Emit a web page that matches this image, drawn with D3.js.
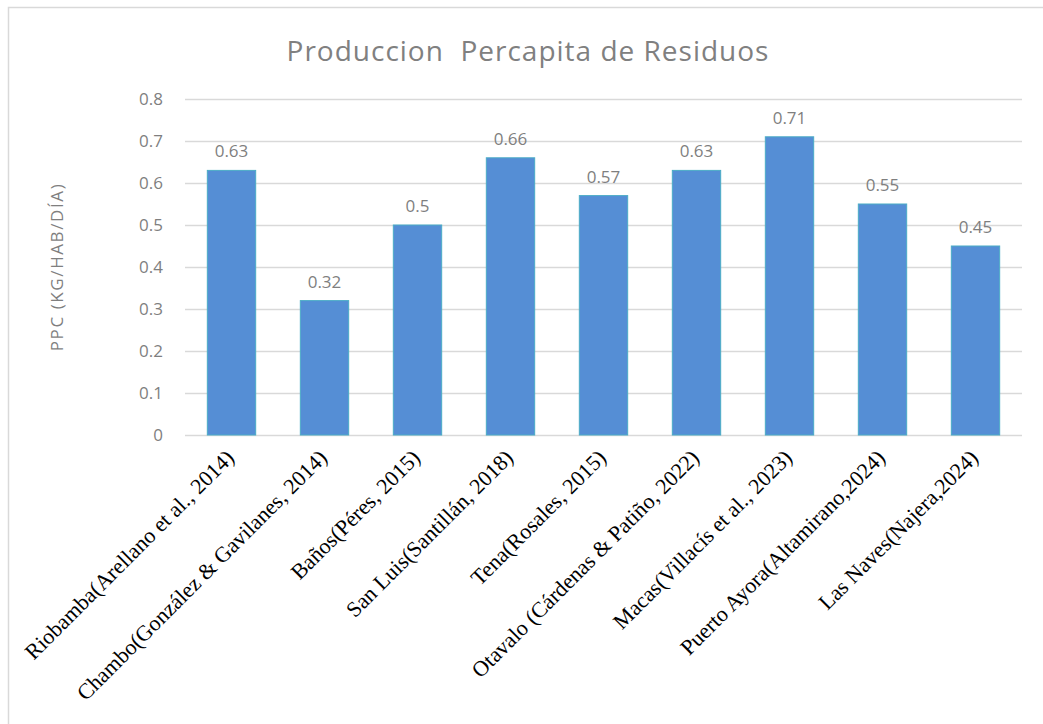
<!DOCTYPE html>
<html>
<head>
<meta charset="utf-8">
<script src="https://cdn.jsdelivr.net/npm/d3@7"></script>
<style>
  body { margin: 0; background: #fff; }
  svg { display: block; }
</style>
</head>
<body>
<svg id="chart"></svg>
<script>
// categories and per-capita waste values (kg/hab/día)
const categories = [
    'Riobamba(Arellano et al., 2014)',
    'Chambo(González & Gavilanes, 2014)',
    'Baños(Péres, 2015)',
    'San Luis(Santillán, 2018)',
    'Tena(Rosales, 2015)',
    'Otavalo (Cárdenas & Patiño, 2022)',
    'Macas(Villacís et al., 2023)',
    'Puerto Ayora(Altamirano,2024)',
    'Las Naves(Najera,2024)'
];
const values = [0.63, 0.32, 0.5, 0.66, 0.57, 0.63, 0.71, 0.55, 0.45];
const yTicks = [0, 0.1, 0.2, 0.3, 0.4, 0.5, 0.6, 0.7, 0.8];

const width = 1043;
const height = 724;
const margin = { top: 99, right: 21, bottom: 289, left: 185 };

const svg = d3.select('#chart')
    .attr('width', width)
    .attr('height', height);

// chart area frame
svg.append('rect')
    .attr('x', 8.5)
    .attr('y', 7.5)
    .attr('width', 1100)
    .attr('height', 800)
    .attr('fill', '#fff')
    .attr('stroke', '#d9d9d9')
    .attr('stroke-width', 1.5);

svg.append('text')
    .attr('x', 528)
    .attr('y', 61)
    .attr('text-anchor', 'middle')
    .attr('font-family', 'Open Sans, sans-serif')
    .attr('font-size', 28)
    .attr('letter-spacing', 1)
    .attr('fill', '#808080')
    .attr('xml:space', 'preserve')
    .text('Produccion  Percapita de Residuos');

const x = d3.scaleBand()
    .domain(categories)
    .range([margin.left, width - margin.right])
    .paddingInner(0.48)
    .paddingOuter(0.24);

const y = d3.scaleLinear()
    .domain([0, 0.8])
    .range([height - margin.bottom, margin.top]);

// gridlines + y tick labels
const yAxis = d3.axisLeft(y)
    .tickValues(yTicks)
    .tickFormat(d => d === 0 ? '0' : d3.format('.1f')(d))
    .tickSize(-(width - margin.right - margin.left))
    .tickPadding(22);

const gy = svg.append('g')
    .attr('transform', `translate(${margin.left},0)`)
    .call(yAxis);
gy.select('.domain').remove();
gy.selectAll('.tick line')
    .attr('stroke', '#d9d9d9')
    .attr('stroke-width', 1.5);
gy.selectAll('.tick text')
    .attr('font-family', 'Open Sans, sans-serif')
    .attr('font-size', 17)
    .attr('fill', '#7f7f7f');

// bars
svg.append('g')
    .selectAll('rect')
    .data(values)
    .join('rect')
    .attr('x', (d, i) => x(categories[i]))
    .attr('y', d => y(d))
    .attr('width', x.bandwidth())
    .attr('height', d => y(0) - y(d))
    .attr('fill', '#558ed5')
    .attr('stroke', '#4bacc6')
    .attr('stroke-width', 1);

// value labels
svg.append('g')
    .selectAll('text')
    .data(values)
    .join('text')
    .attr('x', (d, i) => x(categories[i]) + x.bandwidth() / 2)
    .attr('y', d => y(d) - 13)
    .attr('text-anchor', 'middle')
    .attr('font-family', 'Open Sans, sans-serif')
    .attr('font-size', 17)
    .attr('fill', '#7f7f7f')
    .text(d => d);

// rotated category labels
const xAxis = d3.axisBottom(x).tickSize(0).tickPadding(0);
const gx = svg.append('g')
    .attr('transform', `translate(0,${height - margin.bottom})`)
    .call(xAxis);
gx.select('.domain').remove();
gx.selectAll('.tick text')
    .attr('font-family', 'Liberation Serif, Times New Roman, serif')
    .attr('font-size', 22)
    .attr('fill', '#000')
    .attr('text-anchor', 'end')
    .attr('dy', 0)
    .attr('transform', 'translate(4,24) rotate(-45)');

svg.append('text')
    .attr('transform', `translate(63,${(margin.top + height - margin.bottom) / 2}) rotate(-90)`)
    .attr('text-anchor', 'middle')
    .attr('font-family', 'Open Sans, sans-serif')
    .attr('font-size', 17)
    .attr('letter-spacing', 1.6)
    .attr('fill', '#7f7f7f')
    .text('PPC (KG/HAB/DÍA)');
</script>
</body>
</html>
